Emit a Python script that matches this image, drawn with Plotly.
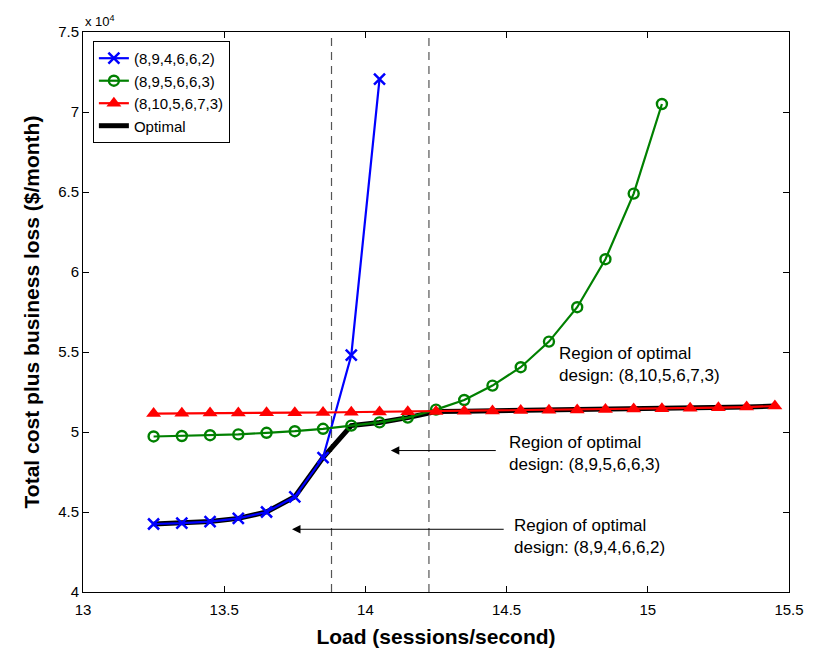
import plotly.graph_objects as go

# Load (sessions/second)
x_blue = [13.25, 13.35, 13.45, 13.55, 13.65, 13.75, 13.85, 13.95, 14.05]
y_blue = [4.425, 4.43, 4.44, 4.46, 4.50, 4.595, 4.84, 5.48, 7.205]

x_green = [13.25, 13.35, 13.45, 13.55, 13.65, 13.75, 13.85, 13.95, 14.05, 14.15,
           14.25, 14.35, 14.45, 14.55, 14.65, 14.75, 14.85, 14.95, 15.05]
y_green = [4.972, 4.975, 4.98, 4.985, 4.995, 5.005, 5.02, 5.04, 5.06, 5.09,
           5.14, 5.20, 5.29, 5.405, 5.565, 5.78, 6.08, 6.49, 7.05]

x_red = [13.25, 13.35, 13.45, 13.55, 13.65, 13.75, 13.85, 13.95, 14.05, 14.15,
         14.25, 14.35, 14.45, 14.55, 14.65, 14.75, 14.85, 14.95, 15.05, 15.15,
         15.25, 15.35, 15.45]
y_red = [5.115, 5.117, 5.118, 5.119, 5.12, 5.121, 5.122, 5.124, 5.125, 5.127,
         5.128, 5.13, 5.132, 5.134, 5.136, 5.138, 5.14, 5.143, 5.146, 5.149,
         5.152, 5.156, 5.162]

x_opt = x_red
y_opt = [4.425, 4.43, 4.44, 4.46, 4.50, 4.595, 4.84, 5.04, 5.06, 5.09,
         5.128, 5.13, 5.132, 5.134, 5.136, 5.138, 5.14, 5.143, 5.146, 5.149,
         5.152, 5.156, 5.162]

boundaries = [13.88, 14.225]
x_ticks = [13, 13.5, 14, 14.5, 15, 15.5]
y_ticks = [4, 4.5, 5, 5.5, 6, 6.5, 7, 7.5]

FONT = "Liberation Sans, Arial, Helvetica, sans-serif"

fig = go.Figure()

fig.add_trace(go.Scatter(x=x_opt, y=y_opt, mode="lines", name="Optimal",
                         line=dict(color="black", width=5), legendrank=4))
fig.add_trace(go.Scatter(x=x_blue, y=y_blue, mode="lines+markers", name="(8,9,4,6,6,2)",
                         line=dict(color="#0000ff", width=2.2),
                         marker=dict(symbol="x-thin", size=11, line=dict(color="#0000ff", width=2.5)),
                         legendrank=1))
fig.add_trace(go.Scatter(x=x_green, y=y_green, mode="lines+markers", name="(8,9,5,6,6,3)",
                         line=dict(color="#008000", width=2.2),
                         marker=dict(symbol="circle-open", size=10, color="#008000",
                                     line=dict(color="#008000", width=2.4)),
                         legendrank=2))
fig.add_trace(go.Scatter(x=x_red, y=y_red, mode="lines+markers", name="(8,10,5,6,7,3)",
                         line=dict(color="#ff0000", width=2.2),
                         marker=dict(symbol="triangle-up", size=13, color="#ff0000"),
                         legendrank=3))

for b in boundaries:
    fig.add_shape(type="line", xref="x", yref="paper", x0=b, x1=b, y0=0, y1=1,
                  line=dict(color="#555555", width=1.2, dash="8px,6px"), layer="below")

ann = []
# arrows
ann.append(dict(x=14.09, y=4.884, ax=14.467, ay=4.884, xref="x", yref="y", axref="x", ayref="y",
                text="", showarrow=True, arrowhead=2, arrowsize=1.7, arrowwidth=1, arrowcolor="black"))
ann.append(dict(x=13.74, y=4.392, ax=14.495, ay=4.392, xref="x", yref="y", axref="x", ayref="y",
                text="", showarrow=True, arrowhead=2, arrowsize=1.7, arrowwidth=1, arrowcolor="black"))
# texts
for tx, ty, t in [(14.502, 4.865, "Region of optimal<br>design: (8,9,5,6,6,3)"),
                  (14.52, 4.35, "Region of optimal<br>design: (8,9,4,6,6,2)"),
                  (14.68, 5.42, "Region of optimal<br>design: (8,10,5,6,7,3)")]:
    ann.append(dict(x=tx, y=ty, xref="x", yref="y", text=t, showarrow=False,
                    xanchor="left", yanchor="middle", align="left",
                    font=dict(family=FONT, size=17, color="black")))
ann.append(dict(x=0, y=1, xref="paper", yref="paper", text="x 10<sup>4</sup>", showarrow=False,
                xanchor="left", yanchor="bottom", yshift=1,
                font=dict(family=FONT, size=13, color="black")))

fig.update_layout(
    width=816, height=657,
    margin=dict(l=83, r=19, t=32, b=62),
    plot_bgcolor="white", paper_bgcolor="white",
    font=dict(family=FONT, size=15, color="black"),
    annotations=ann,
    legend=dict(x=0.014, y=0.984, xanchor="left", yanchor="top",
                bgcolor="white", bordercolor="black", borderwidth=1,
                font=dict(family=FONT, size=15), tracegroupgap=0, itemwidth=30),
    xaxis=dict(range=[13, 15.5], tickvals=x_ticks, ticktext=[f"{v:g}" for v in x_ticks],
               ticks="inside", ticklen=6, tickcolor="black", showgrid=False, zeroline=False,
               showline=True, linecolor="black", linewidth=1, mirror="ticks",
               ticklabelstandoff=4, tickfont=dict(size=15),
               title=dict(text="<b>Load (sessions/second)</b>", font=dict(size=21, family=FONT), standoff=12)),
    yaxis=dict(range=[4, 7.5], tickvals=y_ticks, ticktext=[f"{v:g}" for v in y_ticks],
               ticks="inside", ticklen=6, tickcolor="black", showgrid=False, zeroline=False,
               showline=True, linecolor="black", linewidth=1, mirror="ticks",
               tickfont=dict(size=15),
               title=dict(text="<b>Total cost plus business loss ($/month)</b>", font=dict(size=21, family=FONT), standoff=12)),
)

fig.write_html("out.html")
